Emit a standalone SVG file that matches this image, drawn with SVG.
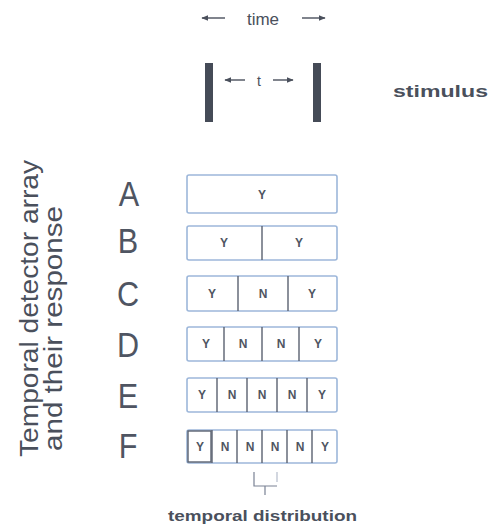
<svg xmlns="http://www.w3.org/2000/svg" width="493" height="527" viewBox="0 0 493 527">
<defs>
<marker id="ah" viewBox="0 0 10 10" refX="9" refY="5" markerWidth="7" markerHeight="7" orient="auto" markerUnits="userSpaceOnUse">
<path d="M0,1 L10,5 L0,9 Z" fill="#4a505c"/>
</marker>
<style>
.lbl{font-family:"Liberation Sans",Arial,sans-serif;fill:#4a505c}
.row{font-family:"Liberation Sans",Arial,sans-serif;font-size:36px;fill:#4f5562;text-anchor:middle}
.cell{font-family:"Liberation Sans",Arial,sans-serif;font-size:12px;font-weight:bold;fill:#4f5562;text-anchor:middle}
.box{fill:#ffffff;stroke:#9db7da;stroke-width:1.6}
.div{stroke:#5a6170;stroke-width:1.4}
.arr{stroke:#4a505c;stroke-width:1.4;fill:none;marker-end:url(#ah)}
.bar{fill:#454b57}
</style>
</defs>
<rect width="493" height="527" fill="#ffffff"/>

<g id="time">
<line class="arr" x1="225" y1="18" x2="202" y2="18"/>
<text class="lbl" x="263" y="25" font-size="17" text-anchor="middle">time</text>
<line class="arr" x1="302" y1="18" x2="325" y2="18"/>
</g>

<g id="stimulus">
<rect class="bar" x="205" y="63" width="8" height="59"/>
<rect class="bar" x="313" y="63" width="8" height="59"/>
<line class="arr" x1="245" y1="80" x2="225" y2="80"/>
<text class="lbl" x="259" y="86" font-size="14" text-anchor="middle">t</text>
<line class="arr" x1="273" y1="80" x2="293" y2="80"/>
<text class="lbl" x="393" y="97" font-size="17" font-weight="bold" textLength="95" lengthAdjust="spacingAndGlyphs">stimulus</text>
</g>

<g id="axis-label">
<text class="lbl" font-size="26" transform="translate(38,457) rotate(-90)" textLength="297" lengthAdjust="spacingAndGlyphs">Temporal detector array</text>
<text class="lbl" font-size="26" transform="translate(62,451) rotate(-90)" textLength="245" lengthAdjust="spacingAndGlyphs">and their response</text>
</g>

<g id="rowA">
<text class="row" transform="translate(129,206) scale(0.85,1)">A</text>
<rect class="box" x="187" y="175" width="150" height="38" rx="2"/>
<text class="cell" x="262" y="199">Y</text>
</g>

<g id="rowB">
<text class="row" transform="translate(128,253) scale(0.85,1)">B</text>
<rect class="box" x="187" y="226" width="150" height="34" rx="2"/>
<line class="div" x1="262" y1="226" x2="262" y2="260"/>
<text class="cell" x="224" y="247">Y</text>
<text class="cell" x="299" y="247">Y</text>
</g>

<g id="rowC">
<text class="row" transform="translate(128,306) scale(0.85,1)">C</text>
<rect class="box" x="187" y="276" width="150" height="35" rx="2"/>
<line class="div" x1="238" y1="276" x2="238" y2="311"/>
<line class="div" x1="288" y1="276" x2="288" y2="311"/>
<text class="cell" x="212" y="298">Y</text>
<text class="cell" x="263" y="298">N</text>
<text class="cell" x="312" y="298">Y</text>
</g>

<g id="rowD">
<text class="row" transform="translate(128,357) scale(0.85,1)">D</text>
<rect class="box" x="187" y="327" width="150" height="34" rx="2"/>
<line class="div" x1="224" y1="327" x2="224" y2="361"/>
<line class="div" x1="262" y1="327" x2="262" y2="361"/>
<line class="div" x1="299" y1="327" x2="299" y2="361"/>
<text class="cell" x="206" y="348">Y</text>
<text class="cell" x="243" y="348">N</text>
<text class="cell" x="281" y="348">N</text>
<text class="cell" x="318" y="348">Y</text>
</g>

<g id="rowE">
<text class="row" transform="translate(128,408) scale(0.85,1)">E</text>
<rect class="box" x="187" y="378" width="150" height="34" rx="2"/>
<line class="div" x1="217" y1="378" x2="217" y2="412"/>
<line class="div" x1="247" y1="378" x2="247" y2="412"/>
<line class="div" x1="277" y1="378" x2="277" y2="412"/>
<line class="div" x1="307" y1="378" x2="307" y2="412"/>
<text class="cell" x="202" y="399">Y</text>
<text class="cell" x="232" y="399">N</text>
<text class="cell" x="262" y="399">N</text>
<text class="cell" x="292" y="399">N</text>
<text class="cell" x="322" y="399">Y</text>
</g>

<g id="rowF">
<text class="row" transform="translate(128,458) scale(0.85,1)">F</text>
<rect class="box" x="187" y="430" width="150" height="33" rx="2"/>
<rect x="188" y="431" width="23" height="31" fill="none" stroke="#5a6170" stroke-width="1.4"/>
<line class="div" x1="212" y1="430" x2="212" y2="463"/>
<line class="div" x1="237" y1="430" x2="237" y2="463"/>
<line class="div" x1="262" y1="430" x2="262" y2="463"/>
<line class="div" x1="287" y1="430" x2="287" y2="463"/>
<line class="div" x1="312" y1="430" x2="312" y2="463"/>
<text class="cell" x="200" y="451">Y</text>
<text class="cell" x="225" y="451">N</text>
<text class="cell" x="250" y="451">N</text>
<text class="cell" x="275" y="451">N</text>
<text class="cell" x="300" y="451">N</text>
<text class="cell" x="325" y="451">Y</text>
</g>

<g id="distribution">
<path d="M254,472 V486 H277 M265,486 V495" fill="none" stroke="#7a8294" stroke-width="1.2"/>
<path d="M277,472 V482" fill="none" stroke="#b5bccb" stroke-width="1.2"/>
<text class="lbl" x="168" y="521" font-size="15" font-weight="bold" textLength="189" lengthAdjust="spacingAndGlyphs">temporal distribution</text>
</g>
</svg>
